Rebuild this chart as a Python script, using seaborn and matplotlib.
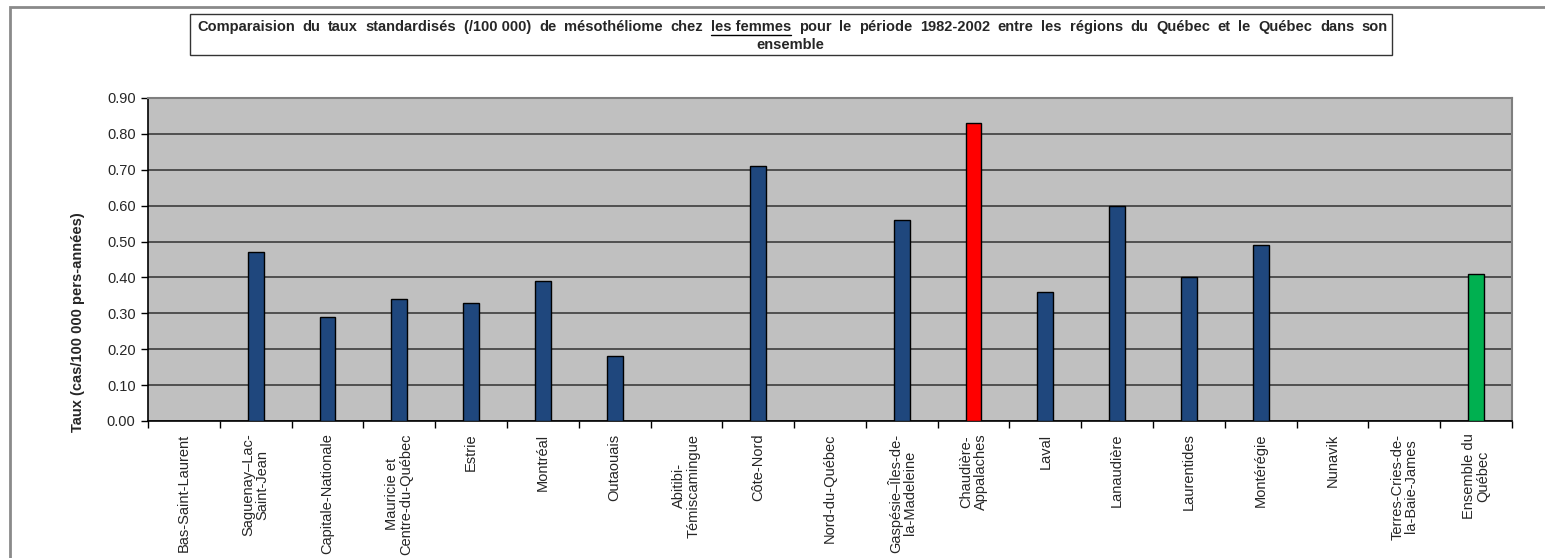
import numpy as np
import pandas as pd
import matplotlib
matplotlib.use("Agg")
import matplotlib.pyplot as plt
from matplotlib.patches import Rectangle
import seaborn as sns

# regions of Quebec + whole province
regions = ["Bas-Saint-Laurent", "Saguenay\u2013Lac-\nSaint-Jean", "Capitale-Nationale",
           "Mauricie et\nCentre-du-Qu\u00e9bec", "Estrie", "Montr\u00e9al", "Outaouais",
           "Abitibi-\nT\u00e9miscamingue", "C\u00f4te-Nord", "Nord-du-Qu\u00e9bec",
           "Gasp\u00e9sie\u2013\u00celes-de-\nla-Madeleine", "Chaudi\u00e8re-\nAppalaches", "Laval",
           "Lanaudi\u00e8re", "Laurentides", "Mont\u00e9r\u00e9gie", "Nunavik",
           "Terres-Cries-de-\nla-Baie-James", "Ensemble du\nQu\u00e9bec"]
# standardized rate (/100 000), NaN = no bar shown
taux = [np.nan, 0.47, 0.29, 0.34, 0.33, 0.39, 0.18, np.nan, 0.71, np.nan,
        0.56, 0.83, 0.36, 0.60, 0.40, 0.49, np.nan, np.nan, 0.41]
bar_colors = ["#1F477D"] * 19
bar_colors[11] = "#FF0000"
bar_colors[18] = "#00B050"

sns.set_style("white")
plt.rcParams["font.family"] = ["Liberation Sans", "DejaVu Sans"]

W, H = 1545, 558
fig = plt.figure(figsize=(W / 100, H / 100), dpi=100)
ax = fig.add_axes([148 / W, 1 - 421 / H, (1512 - 148) / W, (421 - 98) / H])

df = pd.DataFrame({"region": regions, "taux": taux})
sns.barplot(data=df, x="region", y="taux", hue="region", order=regions, hue_order=regions,
            palette=dict(zip(regions, bar_colors)), saturation=1, width=0.22,
            edgecolor="black", linewidth=1, legend=False, ax=ax, zorder=3)

ax.set_facecolor("#C0C0C0")
ax.set_ylim(0, 0.9)
ax.set_xlim(-0.5, len(regions) - 0.5)
ax.set_yticks(np.arange(0, 0.91, 0.1))
ax.set_yticklabels([f"{v:.2f}" for v in np.arange(0, 0.91, 0.1)], fontsize=10.5)
ax.yaxis.grid(True, color="#3c3c3c", linewidth=1.2, zorder=0)
ax.set_axisbelow(True)
ax.tick_params(axis="y", direction="out", length=5, width=1, color="black", pad=4, left=True)

ax.set_xticks(range(len(regions)))
ax.set_xticklabels(regions, rotation=90, fontsize=10.5, va="top", ha="center",
                   multialignment="center", linespacing=1.0)
ax.tick_params(axis="x", which="major", length=0, pad=9)
ax.set_xticks(np.arange(-0.5, len(regions)), minor=True)
ax.tick_params(axis="x", which="minor", direction="out", length=5, width=1, color="black", bottom=True)

ax.set_xlabel("")
ax.set_ylabel("")
for side in ["left", "bottom"]:
    ax.spines[side].set_color("black")
    ax.spines[side].set_linewidth(1.2)
for side in ["top", "right"]:
    ax.spines[side].set_color("#7f7f7f")
    ax.spines[side].set_linewidth(1.5)

fig.text(78 / W, 1 - 322 / H, "Taux (cas/100 000 pers-ann\u00e9es)", rotation=90,
         fontsize=10.5, fontweight="bold", ha="center", va="center")

# outer chart frame (cut by the image on right and bottom)
fig.patches.append(Rectangle((10 / W, -0.05), 1.1, 1.05 - 7 / H, transform=fig.transFigure,
                             fill=False, edgecolor="#8a8a8a", linewidth=2))

# title box
fig.patches.append(Rectangle((190 / W, 1 - 55 / H), (1392 - 190) / W, 41 / H,
                             transform=fig.transFigure, facecolor="white",
                             edgecolor="#333333", linewidth=1))

# justified first title line
words = ["Comparaision", "du", "taux", "standardis\u00e9s", "(/100 000)", "de", "m\u00e9soth\u00e9liome",
         "chez", "les femmes", "pour", "le", "p\u00e9riode", "1982-2002", "entre", "les",
         "r\u00e9gions", "du", "Qu\u00e9bec", "et", "le", "Qu\u00e9bec", "dans", "son"]
x0, x1, yline = 197, 1388, 1 - 27 / H
fig.canvas.draw()
renderer = fig.canvas.get_renderer()
texts = [fig.text(0, yline, w, fontsize=10.5, fontweight="bold", ha="left", va="center")
         for w in words]
widths = [t.get_window_extent(renderer).width for t in texts]
gap = (x1 - x0 - sum(widths)) / (len(words) - 1)
x = x0
for t, w, word in zip(texts, widths, words):
    t.set_x(x / W)
    if word == "les femmes":
        fig.lines.append(plt.Line2D([x / W, (x + w) / W], [1 - 35 / H] * 2,
                                    transform=fig.transFigure, color="black", linewidth=1))
    x += w + gap
fig.text(790 / W, 1 - 45 / H, "ensemble", fontsize=10.5, fontweight="bold",
         ha="center", va="center")

fig.savefig("out.png", dpi=100)
